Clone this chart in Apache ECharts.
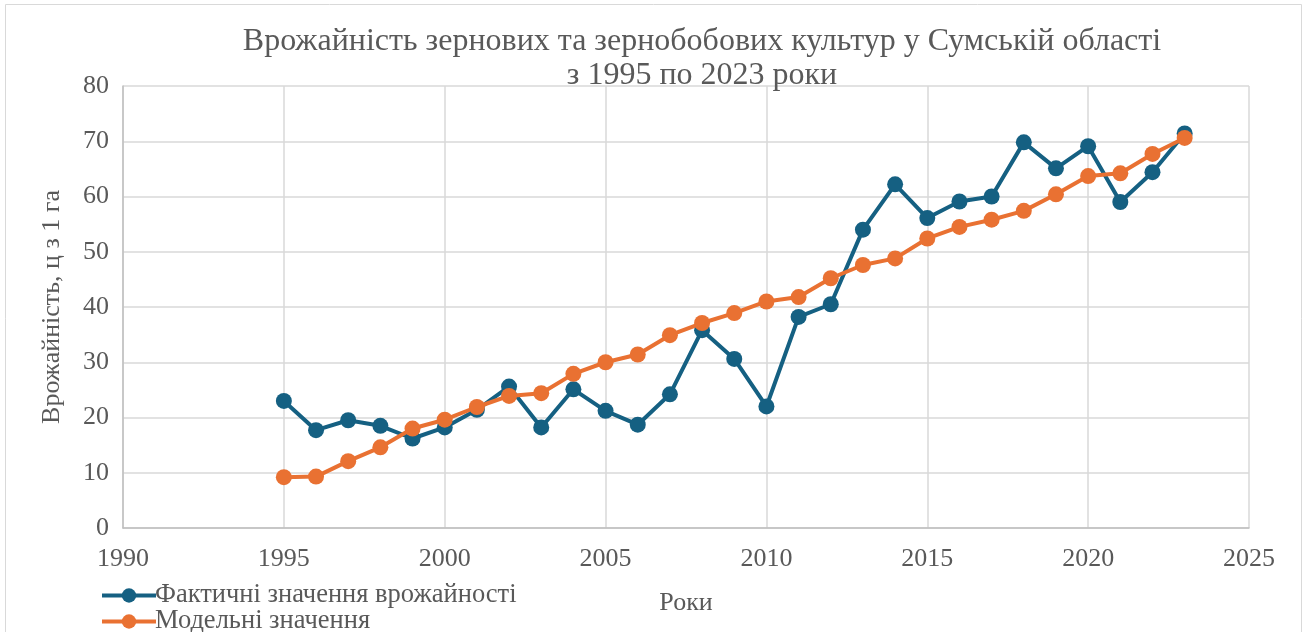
<!DOCTYPE html>
<html>
<head>
<meta charset="utf-8">
<script src="https://cdn.jsdelivr.net/npm/echarts@6/dist/echarts.min.js"></script>
<style>
html,body{margin:0;padding:0;background:#fff;}
#chart{width:1307px;height:632px;}
</style>
</head>
<body>
<div id="chart"></div>
<script>
const titleLines = ['Врожайність зернових та зернобобових культур у Сумській області', 'з 1995 по 2023 роки'];
const years = [1995,1996,1997,1998,1999,2000,2001,2002,2003,2004,2005,2006,2007,2008,2009,2010,2011,2012,2013,2014,2015,2016,2017,2018,2019,2020,2021,2022,2023];
const actual = [23.0,17.7,19.5,18.5,16.2,18.2,21.4,25.6,18.2,25.1,21.2,18.7,24.2,35.8,30.6,22.0,38.2,40.5,54.0,62.2,56.1,59.1,60.0,69.8,65.1,69.1,59.0,64.4,71.4];
const model = [9.2,9.3,12.1,14.6,18.0,19.6,21.9,23.9,24.4,27.9,30.0,31.4,34.9,37.1,38.9,41.0,41.8,45.2,47.6,48.8,52.4,54.5,55.8,57.4,60.4,63.7,64.2,67.7,70.6];
const seriesNames = ['Фактичні значення врожайності', 'Модельні значення'];
const xAxisName = 'Роки';
const yAxisName = 'Врожайність, ц з 1 га';

const font = 'Liberation Serif';
const txt = '#595959';
const chart = echarts.init(document.getElementById('chart'));
const pairs = arr => years.map((y, i) => [y, arr[i]]);
const legendBase = {
  orient: 'horizontal', left: 95, itemWidth: 54, itemHeight: 18,
  lineStyle: {width: 4},
  textStyle: {fontFamily: font, fontSize: 26.5, color: txt, padding: [0,0,0,-6]}
};
chart.setOption({
  animation: false,
  textStyle: {fontFamily: font},
  graphic: [{type: 'rect', shape: {x: 5.5, y: 4.5, width: 1296, height: 640}, style: {fill: 'none', stroke: '#d9d9d9', lineWidth: 1}, silent: true}],
  title: {
    text: titleLines.join('\n'), left: 697, top: 20, textAlign: 'center',
    textStyle: {fontFamily: font, fontSize: 32, fontWeight: 'normal', color: txt, lineHeight: 34}
  },
  legend: [
    Object.assign({}, legendBase, {top: 577, data: [seriesNames[0]]}),
    Object.assign({}, legendBase, {top: 603, data: [seriesNames[1]]})
  ],
  grid: {left: 123, right: 58, top: 86, bottom: 104, containLabel: false},
  xAxis: {
    type: 'value', min: 1990, max: 2025, interval: 5,
    name: xAxisName, nameLocation: 'middle', nameGap: 62,
    nameTextStyle: {fontFamily: font, fontSize: 26, color: txt},
    axisLine: {show: true, lineStyle: {color: '#bfbfbf', width: 1.5}},
    axisTick: {show: false},
    axisLabel: {fontFamily: font, fontSize: 26, color: txt, margin: 18, formatter: v => String(v)},
    splitLine: {show: true, lineStyle: {color: '#d9d9d9', width: 1.5}}
  },
  yAxis: {
    type: 'value', min: 0, max: 80, interval: 10,
    name: yAxisName, nameLocation: 'middle', nameGap: 58, nameRotate: 90,
    nameTextStyle: {fontFamily: font, fontSize: 26, color: txt},
    axisLine: {show: true, lineStyle: {color: '#bfbfbf', width: 1.5}},
    axisTick: {show: false},
    axisLabel: {fontFamily: font, fontSize: 26, color: txt, margin: 14},
    splitLine: {show: true, lineStyle: {color: '#d9d9d9', width: 1.5}}
  },
  series: [
    {name: seriesNames[0], type: 'line', data: pairs(actual), symbol: 'circle', symbolSize: 16,
     lineStyle: {color: '#156082', width: 4}, itemStyle: {color: '#156082'}, z: 2},
    {name: seriesNames[1], type: 'line', data: pairs(model), symbol: 'circle', symbolSize: 16,
     lineStyle: {color: '#E97132', width: 4}, itemStyle: {color: '#E97132'}, z: 3}
  ]
});
</script>
</body>
</html>
